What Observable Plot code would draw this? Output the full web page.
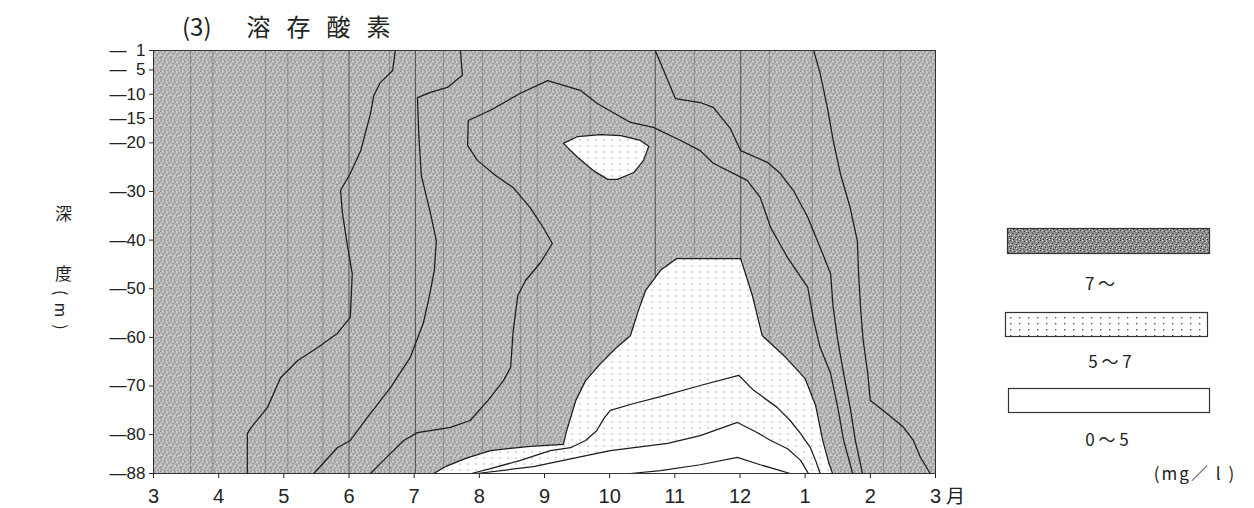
<!DOCTYPE html>
<html><head><meta charset="utf-8">
<script src="https://cdn.jsdelivr.net/npm/d3@7"></script>
<script src="https://cdn.jsdelivr.net/npm/@observablehq/plot@0.6"></script>
<style>
body{margin:0;background:#fff;}
#wrap{position:relative;width:1254px;height:508px;overflow:hidden;font-family:'Liberation Sans',Arial,sans-serif;color:#222;}
#chart{position:absolute;left:0;top:0;}
.t{position:absolute;white-space:nowrap;line-height:1;color:#222;}
</style></head><body>
<div id="wrap">
  <div id="chart"></div>
  <div class="t" style="left:182px;top:14px;font-family:'Noto Sans CJK JP',sans-serif;font-size:24px;">(3)<span style="margin-left:35px;letter-spacing:16px">溶存酸素</span></div>
  <div class="t" style="left:55px;top:204px;font-family:'Noto Sans CJK JP',sans-serif;font-size:17px;">深</div>
  <div class="t" style="left:55px;top:264px;font-family:'Noto Sans CJK JP',sans-serif;font-size:17px;">度</div>
  <div class="t" style="left:54px;top:290px;font-family:'Noto Sans CJK JP',sans-serif;font-size:16px;writing-mode:vertical-rl;letter-spacing:7px;">(m)</div>
</div>
<script>
// ---- axis ticks ----
const monthTicks = [3,4,5,6,7,8,9,10,11,12,13,14,15];
const monthLabels = ["3","4","5","6","7","8","9","10","11","12","1","2","3"];
const depthTicks = [1,5,10,15,20,30,40,50,60,70,80,88];

// ---- contour lines, [month (3 = March ... 15 = next March), depth m] ----
const do10Spring = [[6.71,1],[6.67,5.1],[6.48,7.6],[6.38,10.3],[6.33,14.0],[6.18,21.6],[6.02,26.3],[5.87,29.8],[5.90,34.5],[5.98,41.5],[6.05,46.9],[6.02,55.9],[5.82,59.2],[5.52,62.1],[5.21,64.8],[4.95,68.3],[4.75,74.4],[4.49,78.7],[4.44,79.8],[4.44,88]];
const do9Spring = [[7.71,1],[7.74,6.1],[7.51,8.6],[7.25,9.6],[7.05,10.7],[7.07,18.1],[7.11,26.7],[7.25,34.5],[7.34,40.1],[7.31,46.2],[7.22,52.4],[7.14,57.1],[6.94,64.1],[6.64,70.3],[6.28,76.5],[6.02,81.2],[5.82,82.7],[5.46,88]];
const do8 = [[6.33,88],[6.53,85.3],[6.84,81.2],[7.05,79.6],[7.56,78.5],[7.86,77.1],[8.13,73.0],[8.37,68.9],[8.48,66.2],[8.52,58.6],[8.59,51.4],[8.71,48.3],[8.94,44.6],[9.12,40.7],[8.98,37.4],[8.78,33.3],[8.52,29.2],[8.25,26.7],[7.97,23.6],[7.82,20.5],[7.83,15.4],[8.17,13.3],[8.63,9.8],[9.05,7.2],[9.55,9.2],[9.81,11.9],[10.32,15.8],[10.67,16.8],[11.09,19.5],[11.39,21.6],[11.59,24.2],[12.11,27.7],[12.31,31.2],[12.47,37.4],[12.73,43.6],[13.04,49.7],[13.13,56.5],[13.23,62.1],[13.39,67.4],[13.50,74.4],[13.59,81.2],[13.73,88]];
const do9Winter = [[10.70,1],[11.01,10.9],[11.39,11.7],[11.59,12.7],[11.85,17.0],[12.01,21.6],[12.42,24.0],[12.62,26.3],[12.82,29.8],[13.04,35.3],[13.23,41.5],[13.39,46.9],[13.43,53.9],[13.50,60.6],[13.59,67.4],[13.69,74.4],[13.77,81.2],[13.88,88]];
const do10Winter = [[13.13,1],[13.23,5.7],[13.34,12.7],[13.43,19.5],[13.54,26.3],[13.69,33.3],[13.80,40.1],[13.82,46.9],[13.85,53.9],[13.89,60.6],[13.96,67.4],[14.00,73.0],[14.26,75.7],[14.51,78.5],[14.66,81.2],[14.77,84.7],[14.92,88]];
const do7 = [[7.30,88],[7.48,86.6],[7.79,84.9],[8.17,83.3],[8.78,82.4],[9.29,82.0],[9.34,79.2],[9.48,73.0],[9.63,68.9],[9.86,65.4],[10.09,62.3],[10.32,59.6],[10.44,54.5],[10.55,50.4],[10.78,46.2],[11.03,43.8],[12.01,43.8],[12.19,51.4],[12.34,59.6],[12.70,64.1],[13.00,68.5],[13.16,74.0],[13.27,81.2],[13.36,85.7],[13.42,88]];
const do7Island = [[9.29,20.1],[9.51,18.7],[9.86,18.3],[10.17,18.5],[10.47,19.5],[10.60,20.7],[10.52,23.6],[10.37,26.1],[10.12,27.5],[9.97,27.5],[9.75,25.7],[9.51,23.0],[9.29,20.1]];
const do6 = [[7.88,88],[8.17,87.0],[8.63,85.3],[9.09,83.3],[9.40,82.7],[9.63,81.2],[9.80,79.2],[9.91,76.7],[10.01,75.0],[10.37,73.6],[10.78,72.2],[11.39,69.9],[11.98,67.8],[12.21,70.9],[12.57,74.4],[12.77,77.1],[12.93,79.8],[13.08,82.7],[13.16,85.3],[13.23,88]];
const do5 = [[7.96,88],[8.83,86.6],[9.51,84.7],[10.01,83.3],[10.89,81.8],[11.39,80.2],[11.96,77.5],[12.24,79.4],[12.47,81.2],[12.73,82.9],[12.93,85.3],[13.05,88]];
const do4 = [[10.32,88],[10.78,87.4],[11.39,86.2],[11.96,84.7],[12.31,86.2],[12.62,87.4],[12.77,88]];

// scan streaks visible in the print (month positions)
const streaksStrong = [6.00, 7.02, 10.70, 12.01];
const streaksFaint = [3.57, 3.91, 4.72, 5.06, 5.60, 6.62, 7.45, 8.05, 8.63, 8.89, 9.70, 11.30, 12.45, 13.11, 14.20, 14.46];

// legend
const legendLabels = ["7 ～", "5 ～ 7", "0 ～ 5"];
const unitLabel = "(mg／ l )";

const X = d => d[0], Y = d => d[1];
const lineStyle = {x: X, y: Y, stroke: "#1c1c1c", strokeWidth: 1.25};

const chart = Plot.plot({
  width: 1254, height: 508,
  marginLeft: 153, marginRight: 319, marginTop: 50, marginBottom: 35,
  style: {fontFamily: "'Liberation Sans', Arial, sans-serif", fontSize: "20px", color: "#222", background: "transparent", overflow: "visible"},
  x: {domain: [3, 15], ticks: monthTicks, tickFormat: d => monthLabels[monthTicks.indexOf(d)], tickSize: 5, tickPadding: 10, label: null},
  y: {domain: [1, 88], reverse: true, ticks: depthTicks, tickFormat: d => "—" + (d < 10 ? "\u2007" : "") + d, tickSize: 4, tickPadding: 4, label: null},
  marks: [
    Plot.frame({fill: "url(#gray)", stroke: "none"}),
    Plot.ruleX(streaksFaint, {y1: 1, y2: 88, stroke: "#333", strokeOpacity: 0.3}),
    Plot.ruleX(streaksStrong, {y1: 1, y2: 88, stroke: "#222", strokeOpacity: 0.6, strokeWidth: 1.1}),
    Plot.line(do7, {...lineStyle, fill: "url(#dots)"}),
    Plot.line(do7Island, {...lineStyle, fill: "url(#dots)"}),
    Plot.line(do5, {...lineStyle, fill: "#fff"}),
    Plot.line(do6, lineStyle),
    Plot.line(do4, lineStyle),
    Plot.line(do8, lineStyle),
    Plot.line(do9Spring, lineStyle),
    Plot.line(do10Spring, lineStyle),
    Plot.line(do9Winter, lineStyle),
    Plot.line(do10Winter, lineStyle),
    Plot.frame({stroke: "#333", strokeWidth: 1}),
    Plot.text([monthTicks[monthTicks.length - 1]], {x: d => d, y: () => 88, text: () => "月", dx: 20, dy: 23, fontSize: 19, fontFamily: "'Noto Sans CJK JP', sans-serif", fill: "#222"})
  ]
});
document.getElementById("chart").append(chart);

const svg = d3.select(chart.tagName.toLowerCase() === "svg" ? chart : chart.querySelector("svg"));
// smaller y tick labels (close ticks at 1 and 5 m)
svg.selectAll('g[aria-label^="y-axis"] text').attr("font-size", 17);

// patterns
const defs = svg.insert("defs", ":first-child");
function stipple(id, bg, dark, light) {
  const p = defs.append("pattern").attr("id", id).attr("width", 10).attr("height", 10).attr("patternUnits", "userSpaceOnUse");
  p.append("rect").attr("width", 10).attr("height", 10).attr("fill", bg);
  [[0,0],[4,1],[8,2],[2,3],[6,4],[9,6],[1,6],[5,7],[3,9],[7,9],[0,8]].forEach(([x,y]) => p.append("rect").attr("x", x).attr("y", y).attr("width", 1).attr("height", 1).attr("fill", dark));
  [[2,0],[6,1],[0,4],[4,5],[8,5],[2,7],[6,8],[9,9]].forEach(([x,y]) => p.append("rect").attr("x", x).attr("y", y).attr("width", 1).attr("height", 1).attr("fill", light));
}
stipple("gray", "#bababa", "#5a5a5a", "#f6f6f6");
stipple("grayDark", "#8e8e8e", "#3a3a3a", "#e0e0e0");
const dp = defs.append("pattern").attr("id", "dots").attr("width", 8).attr("height", 6).attr("patternUnits", "userSpaceOnUse");
dp.append("rect").attr("width", 8).attr("height", 6).attr("fill", "#fff");
dp.append("rect").attr("x", 3).attr("y", 1).attr("width", 1).attr("height", 1).attr("fill", "#6a6a6a");
const lp = defs.append("pattern").attr("id", "legendDots").attr("width", 9).attr("height", 6).attr("patternUnits", "userSpaceOnUse").attr("x", 1006).attr("y", 315);
lp.append("rect").attr("width", 9).attr("height", 6).attr("fill", "#fff");
lp.append("rect").attr("x", 4).attr("y", 2).attr("width", 1.4).attr("height", 1.4).attr("fill", "#555");

// legend
const lg = svg.append("g");
const boxes = [
  {x: 1007.5, y: 228.5, w: 202, h: 25, fill: "url(#grayDark)", ty: 285, tx: 1100},
  {x: 1005.5, y: 312.5, w: 202, h: 24, fill: "url(#legendDots)", ty: 363, tx: 1110},
  {x: 1008.5, y: 388.5, w: 201, h: 24, fill: "#fff", ty: 441, tx: 1107}
];
boxes.forEach((b, i) => {
  lg.append("rect").attr("x", b.x).attr("y", b.y).attr("width", b.w).attr("height", b.h).attr("fill", b.fill).attr("stroke", "#333").attr("stroke-width", 1.2);
  lg.append("text").attr("x", b.tx).attr("y", b.ty).attr("text-anchor", "middle").attr("dominant-baseline", "middle")
    .attr("font-family", "'Noto Sans CJK JP', sans-serif").attr("font-size", 17).attr("fill", "#222").attr("xml:space", "preserve").style("white-space", "pre").text(legendLabels[i]);
});
lg.append("text").attr("x", 1195).attr("y", 475).attr("text-anchor", "middle").attr("dominant-baseline", "middle")
  .attr("font-family", "'Noto Sans CJK JP', sans-serif").attr("font-size", 17).attr("letter-spacing", 2).attr("fill", "#222").style("white-space", "pre").text(unitLabel);
</script>
</body></html>
